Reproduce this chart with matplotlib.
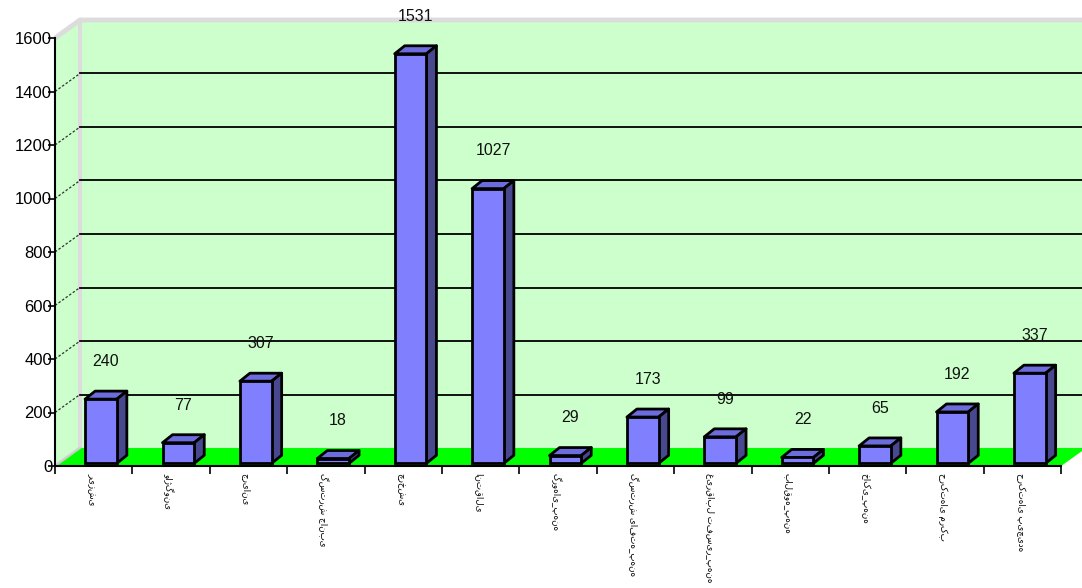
import matplotlib
matplotlib.use("Agg")
import matplotlib.pyplot as plt
from matplotlib.patches import Polygon
import numpy as np

categories = ["ریزشی", "واژگونی", "جریانی", "گسترش جانبی", "چرخشی", "انتقالی",
              "گروهای_پهنه", "گسترش یافته_پهنه", "غیرقابل تفسیر_پهنه", "بالقوه_پهنه",
              "خاکی_پهنه", "حرکتهای مرکب", "حرکتهای پیچیده"]
values = [240, 77, 307, 18, 1531, 1027, 29, 173, 99, 22, 65, 192, 337]
y_ticks = [0, 200, 400, 600, 800, 1000, 1200, 1400, 1600]

W, H = 1082, 588
fig = plt.figure(figsize=(W / 100, H / 100), dpi=100)
fig.patch.set_facecolor("white")

px_per_cat = 77.4
px_per_val = 0.2675
x0_px, y0_px = 55, 466
ax = fig.add_axes([x0_px / W, (H - y0_px) / H, 1 - x0_px / W, y0_px / H])
n = len(categories)
ax.set_xlim(-0.5, -0.5 + (W - x0_px) / px_per_cat)
ax.set_ylim(0, y0_px / px_per_val)
ax.set_facecolor("none")

# 3D offsets (wall depth)
wdx = 25 / px_per_cat
wdy = 18 / px_per_val
ymax = y_ticks[-1]
xl, xr = -0.5, n - 0.5

wall_green = "#ccffcc"
gray = "#dcdcdc"

# back wall
ax.add_patch(Polygon([(xl + wdx, wdy), (xr + wdx + 1, wdy), (xr + wdx + 1, ymax + wdy), (xl + wdx, ymax + wdy)],
                     closed=True, facecolor=wall_green, edgecolor="none", zorder=0))
# left side wall
ax.add_patch(Polygon([(xl, 0), (xl + wdx, wdy), (xl + wdx, ymax + wdy), (xl, ymax)],
                     closed=True, facecolor=wall_green, edgecolor="none", zorder=0))
# gray borders
ax.plot([xl, xl + wdx, xr + wdx + 1], [ymax, ymax + wdy, ymax + wdy], color=gray, lw=3.5, zorder=1,
        solid_capstyle="butt", clip_on=False)
ax.plot([xl + wdx, xl + wdx], [wdy, ymax + wdy], color=gray, lw=3, zorder=1)
ax.plot([xl, xl + wdx], [0, wdy], color=gray, lw=2.5, zorder=1)

# gridlines on back wall + dashed connectors on side wall
for t in y_ticks[1:-1]:
    ax.plot([xl + wdx, xr + wdx + 1], [t + wdy, t + wdy], color="black", lw=1.3, zorder=1)
    ax.plot([xl, xl + wdx], [t, t + wdy], color="#333333", lw=0.9, ls=(0, (2, 1.5)), zorder=1)

# floor
ax.add_patch(Polygon([(xl, 0), (xr, 0), (xr + wdx, wdy), (xl + wdx, wdy)],
                     closed=True, facecolor="#00ff00", edgecolor="none", zorder=2))
ax.plot([xl, xl + wdx], [0, wdy], color="#cccccc", lw=1.5, zorder=2)

# bars
x = np.arange(n)
bw = 0.41
boff = 0.094
bdx = 10 / px_per_cat
bdy = 8 / px_per_val
base = 10
front_c, top_c, side_c = "#8080ff", "#6c6cdc", "#48488f"
for xi, v in zip(x, values):
    l = xi + boff - bw / 2
    r = xi + boff + bw / 2
    t = base + v
    ax.add_patch(Polygon([(l, t), (r, t), (r + bdx, t + bdy), (l + bdx, t + bdy)], closed=True,
                         facecolor=top_c, edgecolor="black", lw=2, joinstyle="round", zorder=3))
    ax.add_patch(Polygon([(r, base), (r + bdx, base + bdy), (r + bdx, t + bdy), (r, t)], closed=True,
                         facecolor=side_c, edgecolor="black", lw=2, joinstyle="round", zorder=3))
ax.bar(x + boff, values, width=bw, bottom=base, color=front_c, edgecolor="black", linewidth=2, zorder=4)

for xi, v in zip(x, values):
    ax.annotate(str(v), (xi + boff + bdx / 2, base + v + bdy), xytext=(0, 16), textcoords="offset points",
                ha="center", va="bottom", fontsize=11.5, family="Liberation Sans", color="#111111", zorder=6)

# axes
for s in ["top", "right"]:
    ax.spines[s].set_visible(False)
ax.spines["left"].set_bounds(0, ymax)
ax.spines["bottom"].set_bounds(xl, xr)
ax.spines["left"].set_linewidth(1.5)
ax.spines["bottom"].set_linewidth(1.5)
ax.spines["left"].set_zorder(5)
ax.spines["bottom"].set_zorder(5)

ax.set_yticks(y_ticks)
ax.set_yticklabels([str(t) for t in y_ticks], family="Liberation Sans", fontsize=12)
ax.tick_params(axis="y", direction="out", length=5, width=1.2, pad=-3)

ax.set_xticks(np.arange(n + 1) - 0.5)
ax.set_xticklabels([])
ax.tick_params(axis="x", direction="out", length=6, width=1.2)
ax.set_xticks(x - 0.03, minor=True)
ax.set_xticklabels(categories, minor=True, rotation=270, family="DejaVu Sans", fontsize=6.3, va="top", ha="center")
ax.tick_params(axis="x", which="minor", length=0, pad=5)

fig.savefig("out.png", dpi=100)
